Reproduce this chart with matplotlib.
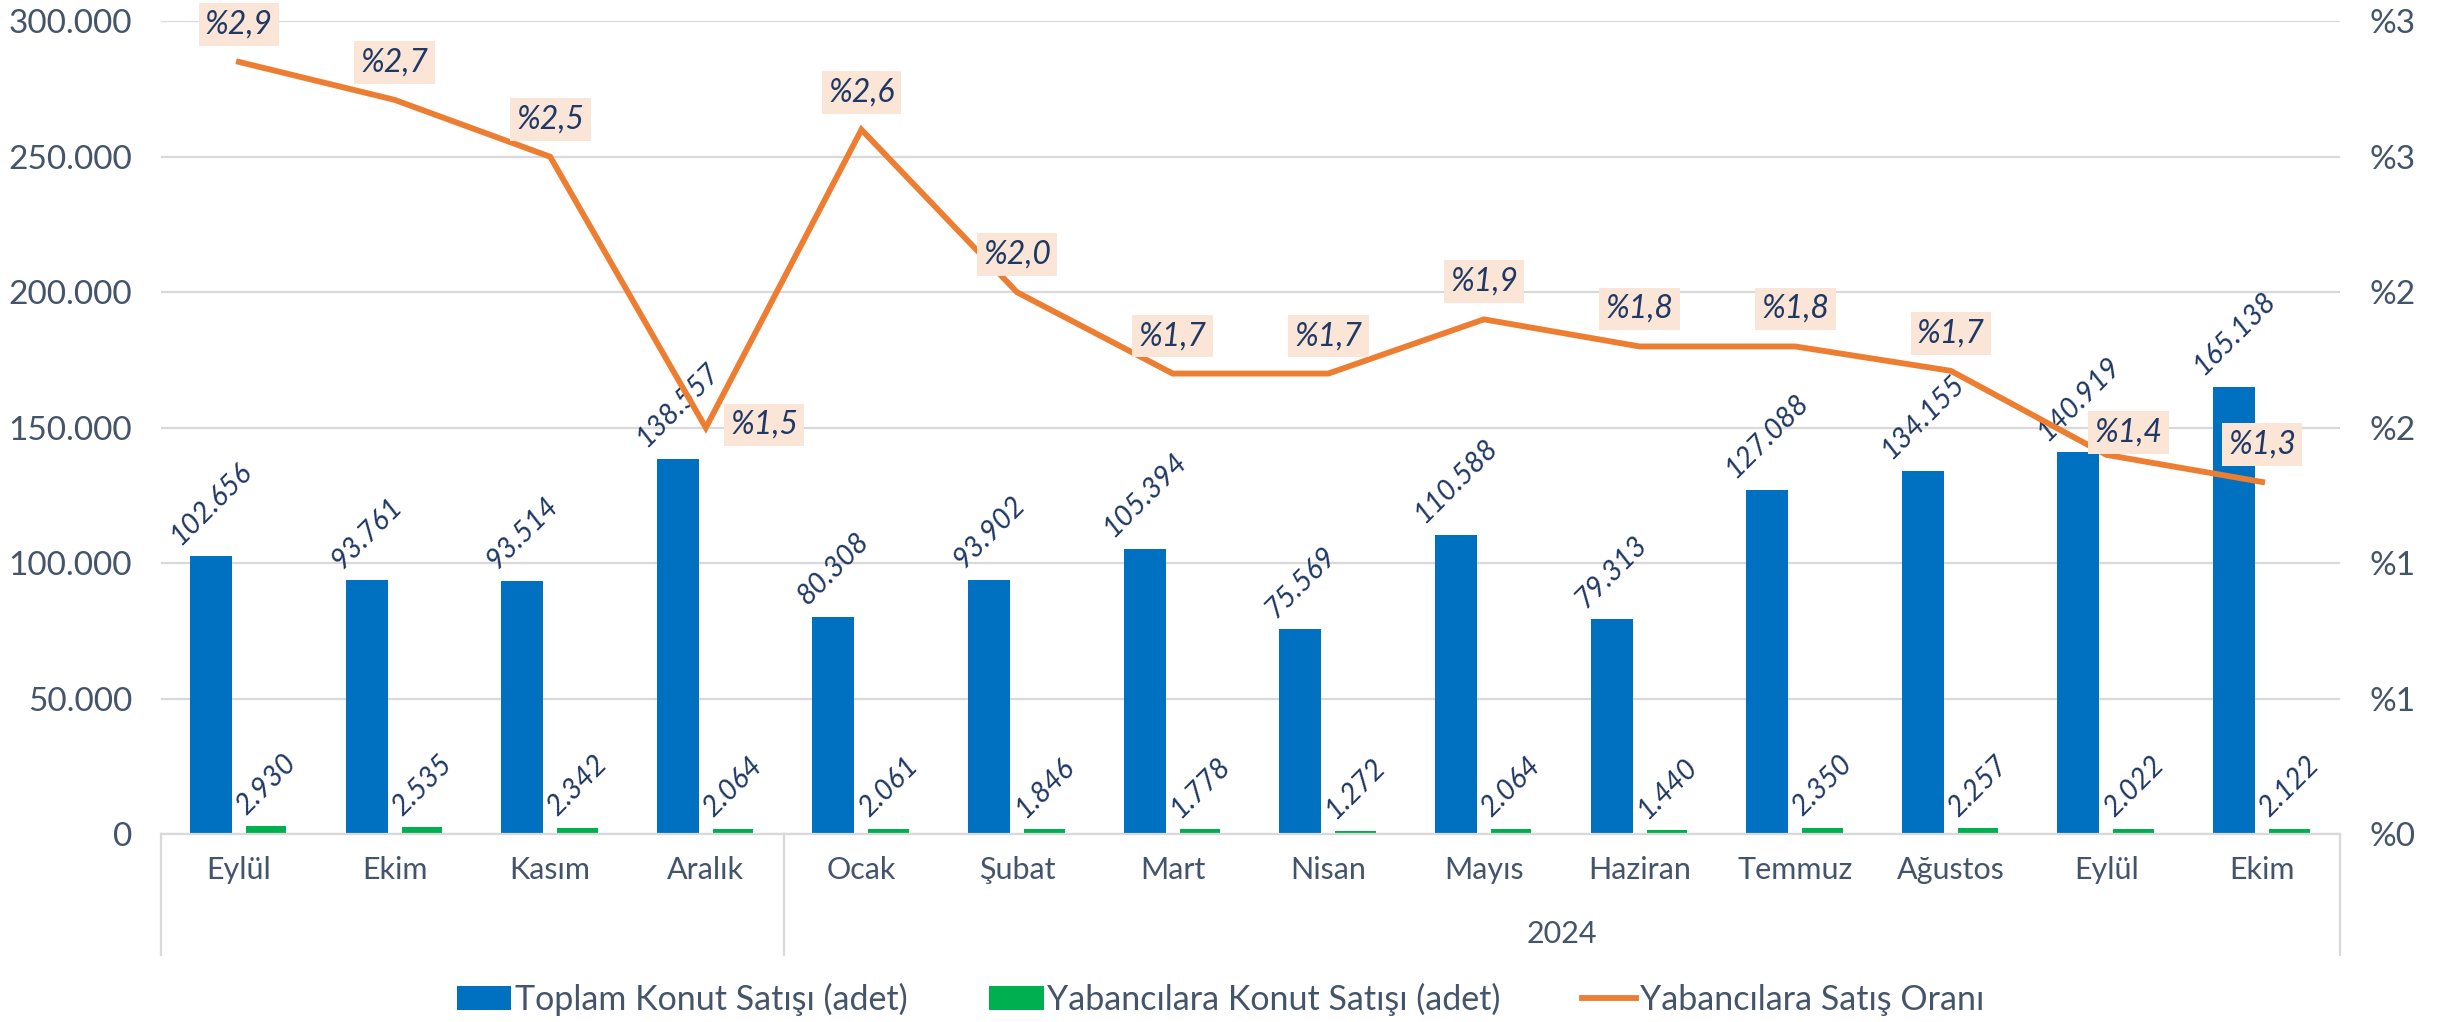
import matplotlib
matplotlib.use("Agg")
import matplotlib.pyplot as plt
import numpy as np
from matplotlib.transforms import blended_transform_factory

plt.rcParams["font.family"] = ["Lato", "DejaVu Sans"]

# ---- data ----
months = ["Eylül", "Ekim", "Kasım", "Aralık", "Ocak", "Şubat", "Mart",
          "Nisan", "Mayıs", "Haziran", "Temmuz", "Ağustos", "Eylül", "Ekim"]
total_sales = [102656, 93761, 93514, 138557, 80308, 93902, 105394,
               75569, 110588, 79313, 127088, 134155, 140919, 165138]
foreign_sales = [2930, 2535, 2342, 2064, 2061, 1846, 1778,
                 1272, 2064, 1440, 2350, 2257, 2022, 2122]
foreign_ratio = [2.85, 2.71, 2.50, 1.50, 2.60, 2.00, 1.70,
                 1.70, 1.90, 1.80, 1.80, 1.71, 1.40, 1.30]
ratio_labels = ["%2,9", "%2,7", "%2,5", "%1,5", "%2,6", "%2,0", "%1,7",
                "%1,7", "%1,9", "%1,8", "%1,8", "%1,7", "%1,4", "%1,3"]
left_ticks = [0, 50000, 100000, 150000, 200000, 250000, 300000]
right_ticks = [0, 0.5, 1.0, 1.5, 2.0, 2.5, 3.0]
right_tick_labels = ["%0", "%1", "%1", "%2", "%2", "%3", "%3"]
year_label = "2024"
year_start = 4  # index of first 2024 month

BLUE = "#0070C0"
GREEN = "#00B050"
ORANGE = "#ED7D31"
AXIS_TXT = "#44546A"
LBL_TXT = "#1F3864"
GRID = "#D9D9D9"
BOX = "#FBE5D6"


def thousands(v):
    return f"{v:,.0f}".replace(",", ".")


fig = plt.figure(figsize=(24.41, 10.22), dpi=100)
ax = fig.add_axes([0.0660, 0.1837, 0.8926, 0.7955])
ax2 = ax.twinx()

x = np.arange(len(months))
bars1 = ax.bar(x - 0.18, total_sales, width=0.27, color=BLUE,
               label="Toplam Konut Satışı (adet)", zorder=2)
bars2 = ax.bar(x + 0.175, foreign_sales, width=0.26, color=GREEN,
               label="Yabancılara Konut Satışı (adet)", zorder=2)

for bars in (bars1, bars2):
    for b in bars:
        ax.annotate(thousands(b.get_height()),
                    (b.get_x() + b.get_width() / 2, b.get_height()),
                    xytext=(0, 5), textcoords="offset points",
                    ha="center", va="bottom", rotation=45,
                    fontsize=20.5, style="italic", color=LBL_TXT, zorder=3)

ax.set_xlim(-0.5, len(months) - 0.5)
ax.set_ylim(0, 300000)
ax.set_yticks(left_ticks)
ax.set_yticklabels([thousands(v) for v in left_ticks])
ax.yaxis.grid(True, color=GRID, lw=1.6, zorder=0)
ax.set_axisbelow(True)
ax.set_xticks(x)
ax.set_xticklabels(months)
ax.tick_params(axis="x", length=0, pad=16, labelsize=22, labelcolor=AXIS_TXT)
ax.tick_params(axis="y", length=0, pad=21, labelsize=24, labelcolor=AXIS_TXT)
for s in ("top", "right", "left"):
    ax.spines[s].set_visible(False)
ax.spines["bottom"].set_color(GRID)
ax.spines["bottom"].set_linewidth(1.6)

# multi-level category separators
tr = blended_transform_factory(ax.transData, ax.transAxes)
for sx in (-0.5, year_start - 0.5, len(months) - 0.5):
    ax.plot([sx, sx], [0, -0.148], transform=tr, color=GRID, lw=1.6,
            clip_on=False)
ax.text((year_start - 0.5 + len(months) - 0.5) / 2, -0.123, year_label,
        transform=tr, ha="center", va="center", fontsize=22, color=AXIS_TXT)

# ratio line
line, = ax2.plot(x, foreign_ratio, color=ORANGE, lw=4.2,
                 solid_joinstyle="miter", label="Yabancılara Satış Oranı",
                 zorder=4)
ax2.set_ylim(0, 3)
ax2.set_yticks(right_ticks)
ax2.set_yticklabels(right_tick_labels)
ax2.tick_params(axis="y", length=0, pad=21, labelsize=24, labelcolor=AXIS_TXT)
for s in ax2.spines.values():
    s.set_visible(False)

offsets = {3: (42, 2), 12: (16, 16)}
for i, (v, t) in enumerate(zip(foreign_ratio, ratio_labels)):
    dx, dy = offsets.get(i, (0, 27))
    ax2.annotate(t, (x[i], v), xytext=(dx, dy), textcoords="offset points",
                 ha="center", va="center", fontsize=23, style="italic",
                 color=LBL_TXT, zorder=5,
                 bbox=dict(boxstyle="square,pad=0.2", fc=BOX, ec="none"))

handles = [bars1, bars2, line]
fig.legend(handles, [h.get_label() for h in handles], loc="center",
           bbox_to_anchor=(0.5, 0.022), ncol=3, frameon=False, fontsize=24.5,
           handlelength=1.6, handletextpad=0.1, columnspacing=2.4,
           labelcolor=AXIS_TXT)

fig.savefig("out.png", dpi=100)
